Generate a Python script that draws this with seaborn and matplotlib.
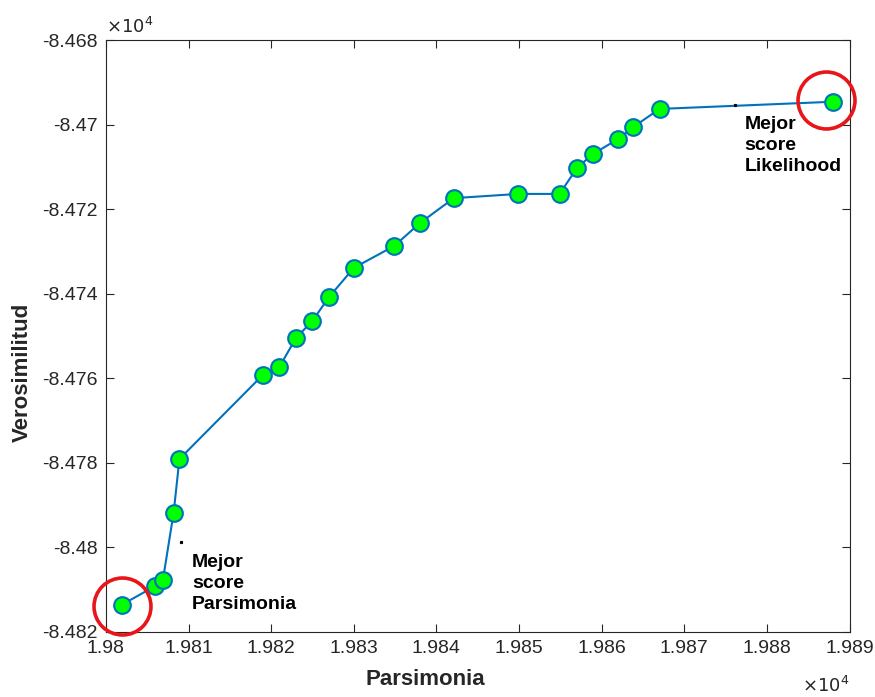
import matplotlib
matplotlib.use("Agg")
import matplotlib.pyplot as plt
import seaborn as sns
import pandas as pd
from matplotlib.ticker import FuncFormatter, MultipleLocator

# Datos (unidades reales, el eje muestra x10^4)
parsimonia = [19801.9, 19806.0, 19806.9, 19808.2, 19808.9, 19819.0, 19821.0,
              19823.0, 19825.0, 19827.0, 19830.0, 19834.9, 19838.0, 19842.1,
              19849.9, 19854.9, 19857.0, 19858.9, 19862.0, 19863.8, 19867.0,
              19888.0]
verosimilitud = [-84813.6, -84809.1, -84807.7, -84791.8, -84779.1, -84759.2,
                 -84757.3, -84750.5, -84746.4, -84740.8, -84733.9, -84728.7,
                 -84723.3, -84717.4, -84716.4, -84716.4, -84710.3, -84707.0,
                 -84703.4, -84700.6, -84696.3, -84694.6]

# Mejores scores resaltados
mejor_x = [19801.9, 19887.2]
mejor_y = [-84813.8, -84694.2]

# Textos y sus puntitos de anclaje
etiquetas = ["Mejor\nscore\nParsimonia", "Mejor\nscore\nLikelihood"]
etiqueta_x = [19810.4, 19877.3]
etiqueta_y = [-84801.5, -84698.0]
ancla_x = [19809.1, 19876.1]
ancla_y = [-84798.7, -84695.4]

df = pd.DataFrame({"parsimonia": parsimonia, "verosimilitud": verosimilitud})

sns.set_style("ticks")
plt.rcParams["font.family"] = ["Liberation Sans", "DejaVu Sans"]

fig = plt.figure(figsize=(8.75, 6.97), dpi=100)
ax = fig.add_axes([0.121, 0.0933, 0.850, 0.8493])

sns.lineplot(
    data=df, x="parsimonia", y="verosimilitud",
    sort=False, estimator=None, ax=ax,
    color="#0072BD", linewidth=1.5,
    marker="o", markersize=12, markerfacecolor="#00FF00",
    markeredgecolor="#0072BD", markeredgewidth=1.5,
)

ax.plot(mejor_x, mejor_y, linestyle="none", marker="o", markersize=41,
        markerfacecolor="none", markeredgecolor="#E8151B",
        markeredgewidth=2.6, clip_on=False, zorder=5)

ax.plot(ancla_x, ancla_y, linestyle="none", marker="s", markersize=1.3,
        color="black")

for tx, ty, t in zip(etiqueta_x, etiqueta_y, etiquetas):
    ax.text(tx, ty, t, fontsize=14, fontweight="bold", ha="left", va="top",
            linespacing=1.3, color="black")

ax.set_xlim(19800, 19890)
ax.set_ylim(-84820, -84680)
ax.xaxis.set_major_locator(MultipleLocator(10))
ax.yaxis.set_major_locator(MultipleLocator(20))
fmt = FuncFormatter(lambda v, p: "{:g}".format(round(v / 1e4, 4)))
ax.xaxis.set_major_formatter(fmt)
ax.yaxis.set_major_formatter(fmt)

ax.tick_params(direction="in", top=True, right=True, length=5.5, width=0.8,
               labelsize=14, colors="#262626", pad=6)
for s in ax.spines.values():
    s.set_visible(True)
    s.set_linewidth(0.8)
    s.set_color("#262626")

ax.set_xlabel("Parsimonia", fontsize=16, fontweight="bold", color="#262626")
ax.set_ylabel("Verosimilitud", fontsize=16, fontweight="bold", color="#262626")
ax.xaxis.set_label_coords(0.429, -0.062)
ax.yaxis.set_label_coords(-0.098, 0.439)

ax.text(0.0, 1.005, r"$\times10^4$", transform=ax.transAxes, fontsize=13,
        ha="left", va="bottom", color="#262626")
ax.text(1.0, -0.075, r"$\times10^4$", transform=ax.transAxes, fontsize=13,
        ha="right", va="top", color="#262626")

fig.savefig("out.png", dpi=100, facecolor="white")
